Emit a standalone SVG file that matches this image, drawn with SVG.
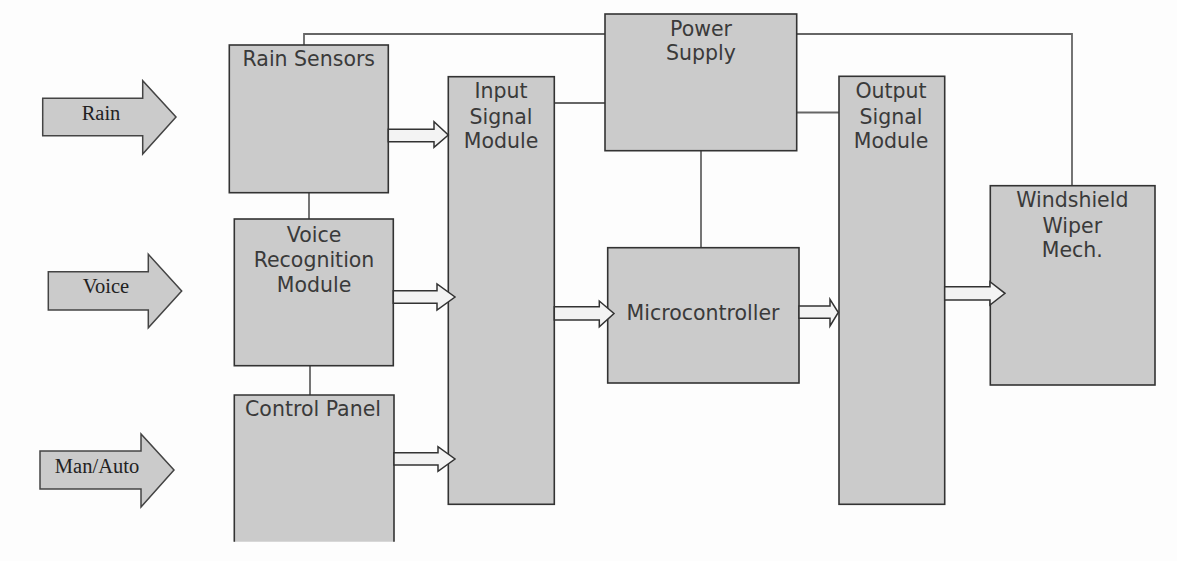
<svg xmlns="http://www.w3.org/2000/svg" width="1177" height="561" viewBox="0 0 1177 561">
<style>
.box{fill:#cbcbcb;stroke:#333;stroke-width:1.6}
.lbl{font-family:"DejaVu Sans",Verdana,sans-serif;font-size:20.5px;fill:#3a3a3a;text-anchor:middle}
.in{fill:#cbcbcb;stroke:#444;stroke-width:1.5;stroke-linejoin:miter}
.inl{font-family:"Liberation Serif","Times New Roman",serif;font-size:20.5px;fill:#222;text-anchor:middle}
.ha{fill:#f3f3f3;stroke:#333;stroke-width:1.5}
.wire{fill:none;stroke:#666;stroke-width:1.8}
</style>
<rect width="1177" height="561" fill="#fdfdfd"/>
<g id="connectors">
<polyline class="wire" points="304,45 304,34 605,34"/>
<polyline class="wire" points="797,34 1072,34 1072,186"/>
<line class="wire" x1="309" y1="193" x2="309" y2="219"/>
<line class="wire" x1="310" y1="366" x2="310" y2="395"/>
<line class="wire" x1="554" y1="103" x2="605" y2="103"/>
<line class="wire" x1="797" y1="112.5" x2="839" y2="112.5"/>
<line class="wire" x1="701" y1="151" x2="701" y2="248"/>
</g>
<g id="input-rain">
<path class="in" d="M42.7,98.3H142.7V80.7L176,117L142.7,154V135.7H42.7Z"/>
<text class="inl" x="101" y="119.5">Rain</text>
</g>
<g id="input-voice">
<path class="in" d="M48.3,271.7H148.3V254.3L181.7,291L148.3,327.7V310H48.3Z"/>
<text class="inl" x="106" y="292.5">Voice</text>
</g>
<g id="input-manauto">
<path class="in" d="M40,451H141V434L174,470L141,507V489H40Z"/>
<text class="inl" x="97" y="472.5">Man/Auto</text>
</g>
<g id="rain-sensors">
<rect class="box" x="229.3" y="45" width="159" height="147.7"/>
<text class="lbl" x="308.8" y="65.5">Rain Sensors</text>
</g>
<g id="voice-recognition">
<rect class="box" x="234.3" y="219" width="159" height="146.7"/>
<text class="lbl" x="314" y="241.5">Voice</text>
<text class="lbl" x="314" y="267">Recognition</text>
<text class="lbl" x="314" y="292">Module</text>
</g>
<g id="control-panel">
<path d="M234.3,541.7V395H394V541.7Z" fill="#cbcbcb"/>
<path d="M234.3,541.7V395H394V541.7" fill="none" stroke="#333" stroke-width="1.6"/>
<text class="lbl" x="313" y="416">Control Panel</text>
</g>
<g id="input-signal-module">
<rect class="box" x="448.3" y="76.7" width="106" height="427.6"/>
<text class="lbl" x="501" y="98.3">Input</text>
<text class="lbl" x="501" y="123.5">Signal</text>
<text class="lbl" x="501" y="148.3">Module</text>
</g>
<g id="power-supply">
<rect class="box" x="605" y="14" width="191.7" height="136.7"/>
<text class="lbl" x="701" y="36">Power</text>
<text class="lbl" x="701" y="60">Supply</text>
</g>
<g id="microcontroller">
<rect class="box" x="607.7" y="247.7" width="191.3" height="135.3"/>
<text class="lbl" x="703" y="320">Microcontroller</text>
</g>
<g id="output-signal-module">
<rect class="box" x="839" y="76.3" width="105.7" height="428"/>
<text class="lbl" x="891" y="98.3">Output</text>
<text class="lbl" x="891" y="123.5">Signal</text>
<text class="lbl" x="891" y="148.3">Module</text>
</g>
<g id="windshield-wiper">
<rect class="box" x="990.3" y="185.7" width="164.7" height="199.3"/>
<text class="lbl" x="1072.3" y="206.5">Windshield</text>
<text class="lbl" x="1072.3" y="233">Wiper</text>
<text class="lbl" x="1072.3" y="257.3">Mech.</text>
</g>
<g id="data-arrows">
<path class="ha" d="M388.3,129.3H434V121.7L448.3,135L434,147.3V141.7H388.3Z"/>
<path class="ha" d="M393.3,290.7H437V284L455,297L437,310V303.3H393.3Z"/>
<path class="ha" d="M394,452.7H438V446.7L455,459L438,471.3V465H394Z"/>
<path class="ha" d="M554.3,306.7H599.3V301L614,313.5L599.3,326.7V320H554.3Z"/>
<path class="ha" d="M799,306H830V299.3L838.3,312.5L830,326V318.3H799Z"/>
<path class="ha" d="M944.7,286.7H990V281.7L1005,293.3L990,305V300H944.7Z"/>
</g>
</svg>
